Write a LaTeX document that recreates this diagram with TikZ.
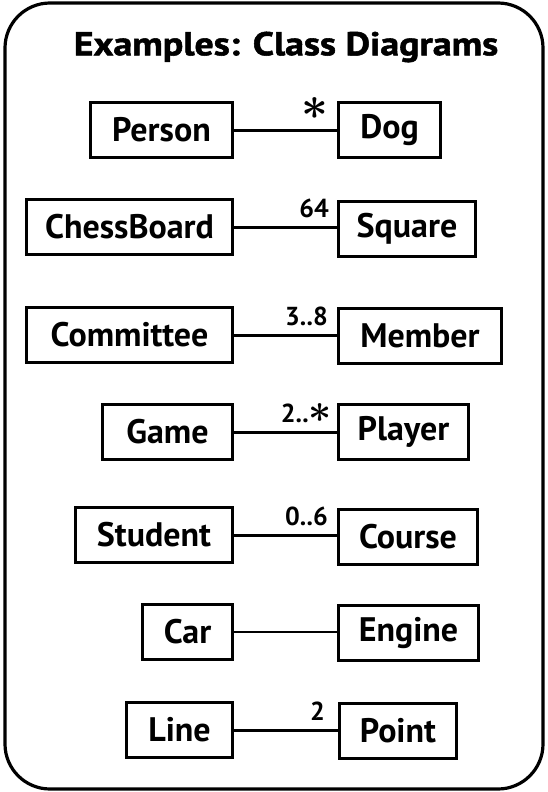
\documentclass[tikz,border=0pt]{standalone}
\usepackage{fontspec}
\usepackage{graphicx}
\setmainfont{PT Sans}
\newfontfamily\heavyfont{PT Sans Bold}[FakeBold=1.6, FakeStretch=1.15]
\newcommand{\bigast}[1]{\resizebox{!}{#1}{\boldmath$\ast$}}
\begin{document}
\begin{tikzpicture}[x=1pt, y=-1pt,
        cls/.style={draw, line width=3pt, minimum height=55pt, inner sep=0pt, font=\fontsize{34}{34}\selectfont\bfseries},
        assoc/.style={line width=3pt},
        mult/.style={anchor=south east, inner sep=0pt, font=\fontsize{26}{26}\selectfont\bfseries},
        frame/.style={line width=3.2pt, rounded corners=45pt}
      ]
        \useasboundingbox (0,0) rectangle (547,792);
        \draw[frame] (5,3) rectangle (543,789);
        \node[inner sep=0pt, font=\fontsize{33}{33}\heavyfont] (title) at (286,47) {Examples: Class Diagrams};

        \node[cls, minimum width=142pt, anchor=east] (person) at (234,130) {Person};
        \node[cls, minimum width=102pt, anchor=west] (dog) at (337,130) {Dog};
        \node[cls, minimum width=206pt, anchor=east] (chessboard) at (234,227) {ChessBoard};
        \node[cls, minimum width=137pt, anchor=west] (square) at (337,229) {Square};
        \node[cls, minimum width=206pt, anchor=east] (committee) at (234,335) {Committee};
        \node[cls, minimum width=163pt, anchor=west] (member) at (337,336) {Member};
        \node[cls, minimum width=130pt, anchor=east] (game) at (234,432) {Game};
        \node[cls, minimum width=130pt, anchor=west] (player) at (337,432) {Player};
        \node[cls, minimum width=157pt, anchor=east] (student) at (234,535) {Student};
        \node[cls, minimum width=139pt, anchor=west] (course) at (337,537) {Course};
        \node[cls, minimum width=90pt, anchor=east] (car) at (234,632) {Car};
        \node[cls, minimum width=140pt, anchor=west] (engine) at (337,633) {Engine};
        \node[cls, minimum width=106pt, anchor=east] (line) at (234,730) {Line};
        \node[cls, minimum width=117pt, anchor=west] (point) at (338,731) {Point};

        \draw[assoc] (person.east) -- (person.east -| dog.west);
        \draw[assoc] (chessboard.east) -- (chessboard.east -| square.west);
        \draw[assoc] (committee.east) -- (committee.east -| member.west);
        \draw[assoc] (game.east) -- (game.east -| player.west);
        \draw[assoc] (student.east) -- (student.east -| course.west);
        \draw[line width=2pt] (car.east) -- (car.east -| engine.west);
        \draw[assoc] (line.east) -- (line.east -| point.west);

        \node[mult] (m-dog) at ([xshift=-9pt, yshift=10pt]person.east -| dog.west) {\bigast{22pt}};
        \node[mult] (m-square) at ([xshift=-8pt, yshift=9pt]chessboard.east -| square.west) {64};
        \node[mult] (m-member) at ([xshift=-9pt, yshift=9pt]committee.east -| member.west) {3..8};
        \node[mult] (m-player) at ([xshift=-5pt, yshift=9pt]game.east -| player.west) {2..\bigast{19pt}};
        \node[mult] (m-course) at ([xshift=-9pt, yshift=9pt]student.east -| course.west) {0..6};
        \node[mult] (m-point) at ([xshift=-13pt, yshift=9pt]line.east -| point.west) {2};
      \end{tikzpicture}
\end{document}
